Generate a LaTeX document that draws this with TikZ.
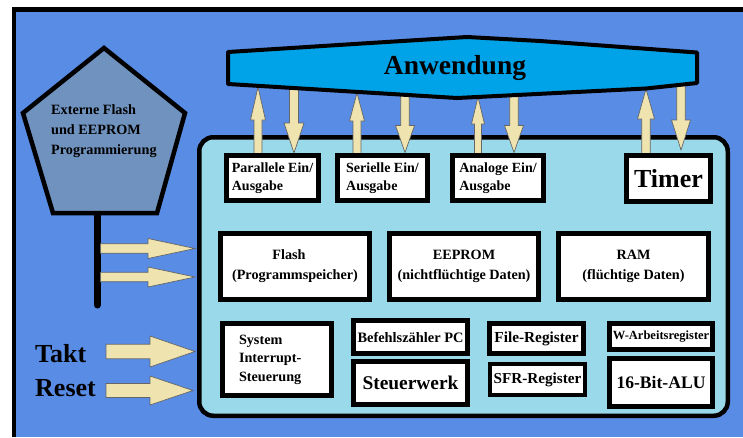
\documentclass[tikz,border=0pt]{standalone}
\usepackage{fontspec}
\setmainfont{Liberation Serif}
\usetikzlibrary{calc}
\definecolor{bgblue}{RGB}{88,140,229}
\definecolor{mcublue}{RGB}{153,217,234}
\definecolor{anwblue}{RGB}{0,162,232}
\definecolor{pentblue}{RGB}{112,146,190}
\definecolor{arrfill}{RGB}{239,228,176}
\newcommand\fsz[2]{\fontsize{#1}{#2}\selectfont}
% horizontal block arrow: start, tip, shaft half width, head half width, head length
\newcommand\hblock[5]{%
  \draw[blockarr] let \p1=(#1), \p2=(#2) in
   (\x1,\y1+#3) -- (\x2-#5,\y1+#3) -- (\x2-#5,\y1+#4) -- (\x2,\y1) --
   (\x2-#5,\y1-#4) -- (\x2-#5,\y1-#3) -- (\x1,\y1-#3) -- cycle;}
% upward block arrow
\newcommand\ublock[5]{%
  \draw[blockarr] let \p1=(#1), \p2=(#2) in
   (\x1-#3,\y1) -- (\x1-#3,\y2-#5) -- (\x1-#4,\y2-#5) -- (\x1,\y2) --
   (\x1+#4,\y2-#5) -- (\x1+#3,\y2-#5) -- (\x1+#3,\y1) -- cycle;}
% downward block arrow
\newcommand\dblock[5]{%
  \draw[blockarr] let \p1=(#1), \p2=(#2) in
   (\x1-#3,\y1) -- (\x1-#3,\y2+#5) -- (\x1-#4,\y2+#5) -- (\x1,\y2) --
   (\x1+#4,\y2+#5) -- (\x1+#3,\y2+#5) -- (\x1+#3,\y1) -- cycle;}
\tikzset{
  wbox/.style={draw=black, line width=5pt, fill=white, inner sep=0pt, align=center},
  blockarr/.style={draw=black!60, line width=0.7pt, fill=arrfill, line join=miter},
  lbl/.style={inner sep=0pt, font=\bfseries}
}
\begin{document}
\begin{tikzpicture}[x=1pt,y=-1pt]
\useasboundingbox (0,0) rectangle (743,437);
\fill[white] (0,0) rectangle (743,437);
\fill[bgblue] (14,9.5) rectangle (743,437);
\draw[line width=4.5pt] (14,437) -- (14,9.5) -- (743,9.5);

% programming line and pentagon
\coordinate (vtop) at (97.5,210);
\coordinate (vbot) at (97.5,305);
\draw[line width=7pt, line cap=round] (vtop) -- (vbot);
\draw[line width=4.5pt, fill=pentblue] (104,48) -- (185,113) -- (157,213) -- (53,213) -- (23,113) -- cycle;
\node[lbl, anchor=west, align=left, font=\bfseries\fsz{14.2}{20}] (ext) at (51,131)
  {Externe Flash\\und EEPROM\\Programmierung};

% microcontroller body
\node[draw=black, line width=4.5pt, fill=mcublue, rounded corners=14pt,
      minimum width=528.5pt, minimum height=278.5pt, inner sep=0pt] (mcu) at (463.5,276.5) {};

% left block arrows
\coordinate (f1s) at (100.5,248.5); \coordinate (f1e) at (195,248.5);
\coordinate (f2s) at (100.5,277);   \coordinate (f2e) at (195,277);
\coordinate (tks) at (106,351.5);   \coordinate (tke) at (195,351.5);
\coordinate (rss) at (106,390.5);   \coordinate (rse) at (193,390.5);
\hblock{f1s}{f1e}{4.7}{10}{47}
\hblock{f2s}{f2e}{4.7}{10}{47}
\hblock{tks}{tke}{7.3}{15.5}{45}
\hblock{rss}{rse}{7}{14.5}{43}
\node[lbl, anchor=base west, font=\bfseries\fsz{26}{30}] (takt) at (35,362.5) {Takt};
\node[lbl, anchor=base west, font=\bfseries\fsz{26}{30}] (reset) at (35,396) {Reset};

% vertical block arrows
\coordinate (u1s) at (258,160); \coordinate (u1t) at (258,87);
\coordinate (u2s) at (357,160); \coordinate (u2t) at (357,93);
\coordinate (u3s) at (478,160); \coordinate (u3t) at (478,97);
\coordinate (u4s) at (646,160); \coordinate (u4t) at (646,89);
\coordinate (d1s) at (294,80);  \coordinate (d1t) at (294,153);
\coordinate (d2s) at (405,85);  \coordinate (d2t) at (405,152.5);
\coordinate (d3s) at (514,85);  \coordinate (d3t) at (514,152.5);
\coordinate (d4s) at (681,75);  \coordinate (d4t) at (681,150);
\ublock{u1s}{u1t}{4}{7.5}{33}
\ublock{u2s}{u2t}{4}{7.5}{28}
\ublock{u3s}{u3t}{3.5}{6.5}{27}
\ublock{u4s}{u4t}{4.3}{8.5}{30}
\dblock{d1s}{d1t}{4.5}{10}{30}
\dblock{d2s}{d2t}{4.3}{9.5}{27}
\dblock{d3s}{d3t}{4.3}{9.5}{27}
\dblock{d4s}{d4t}{4.3}{9.5}{30}

% Anwendung
\draw[line width=4pt, fill=anwblue, line join=round]
  (228,52) -- (370,43) -- (467,37) -- (540,41) -- (697,52.5) -- (697,83)
  -- (646,88.5) -- (457,98) -- (228,84) -- cycle;
\node[lbl, anchor=base, font=\bfseries\fsz{27.5}{32}] (anw) at (455,74.5) {Anwendung};

% inner blocks
\node[wbox, minimum width=92pt, minimum height=45pt, align=left, font=\bfseries\fsz{14}{18}] (par) at (272.5,178) {Parallele Ein/\\Ausgabe};
\node[wbox, minimum width=90pt, minimum height=45pt, align=left, font=\bfseries\fsz{14}{18}] (ser) at (382.5,178) {Serielle Ein/\\Ausgabe};
\node[wbox, minimum width=91pt, minimum height=45pt, align=left, font=\bfseries\fsz{14}{18}] (ana) at (498,178) {Analoge Ein/\\Ausgabe};
\node[wbox, minimum width=84pt, minimum height=46pt, font=\bfseries\fsz{26}{30}] (timer) at (668.5,178.5) {Timer};

\node[wbox, minimum width=149pt, minimum height=66pt, font=\bfseries\fsz{14.2}{20}] (flash) at (295,266.5) {Flash\hspace*{12pt}\\(Programmspeicher)};
\node[wbox, minimum width=149pt, minimum height=66pt, font=\bfseries\fsz{14.2}{20}] (eeprom) at (464,266.5) {EEPROM\\(nichtflüchtige Daten)};
\node[wbox, minimum width=150pt, minimum height=66pt, font=\bfseries\fsz{14.2}{20}] (ram) at (633.5,266.5) {RAM\\(flüchtige Daten)};

\node[wbox, minimum width=109pt, minimum height=72pt, align=left, text width=76pt, font=\bfseries\fsz{14.2}{18.5}] (sys) at (277,359.5) {System\\Interrupt-\\Steuerung};
\node[wbox, minimum width=114pt, minimum height=33pt, font=\bfseries\fsz{14.4}{17}] (pc) at (410.5,337) {Befehlszähler PC};
\node[wbox, minimum width=114pt, minimum height=43pt, font=\bfseries\fsz{19.4}{23}] (steuer) at (410.5,383) {Steuerwerk};
\node[wbox, minimum width=94pt, minimum height=30pt, font=\bfseries\fsz{15.3}{18}] (file) at (536.5,338.5) {File-Register};
\node[wbox, line width=4pt, minimum width=95pt, minimum height=31pt, font=\bfseries\fsz{15.2}{18}] (sfr) at (537.5,379.5) {SFR-Register};
\node[wbox, minimum width=103pt, minimum height=26pt, font=\bfseries\fsz{12.5}{15}] (warb) at (661,336.5) {W-Arbeitsregister};
\node[wbox, minimum width=103pt, minimum height=48pt, font=\bfseries\fsz{17.6}{21}] (alu) at (661,382.5) {16-Bit-ALU};
\end{tikzpicture}
\end{document}
